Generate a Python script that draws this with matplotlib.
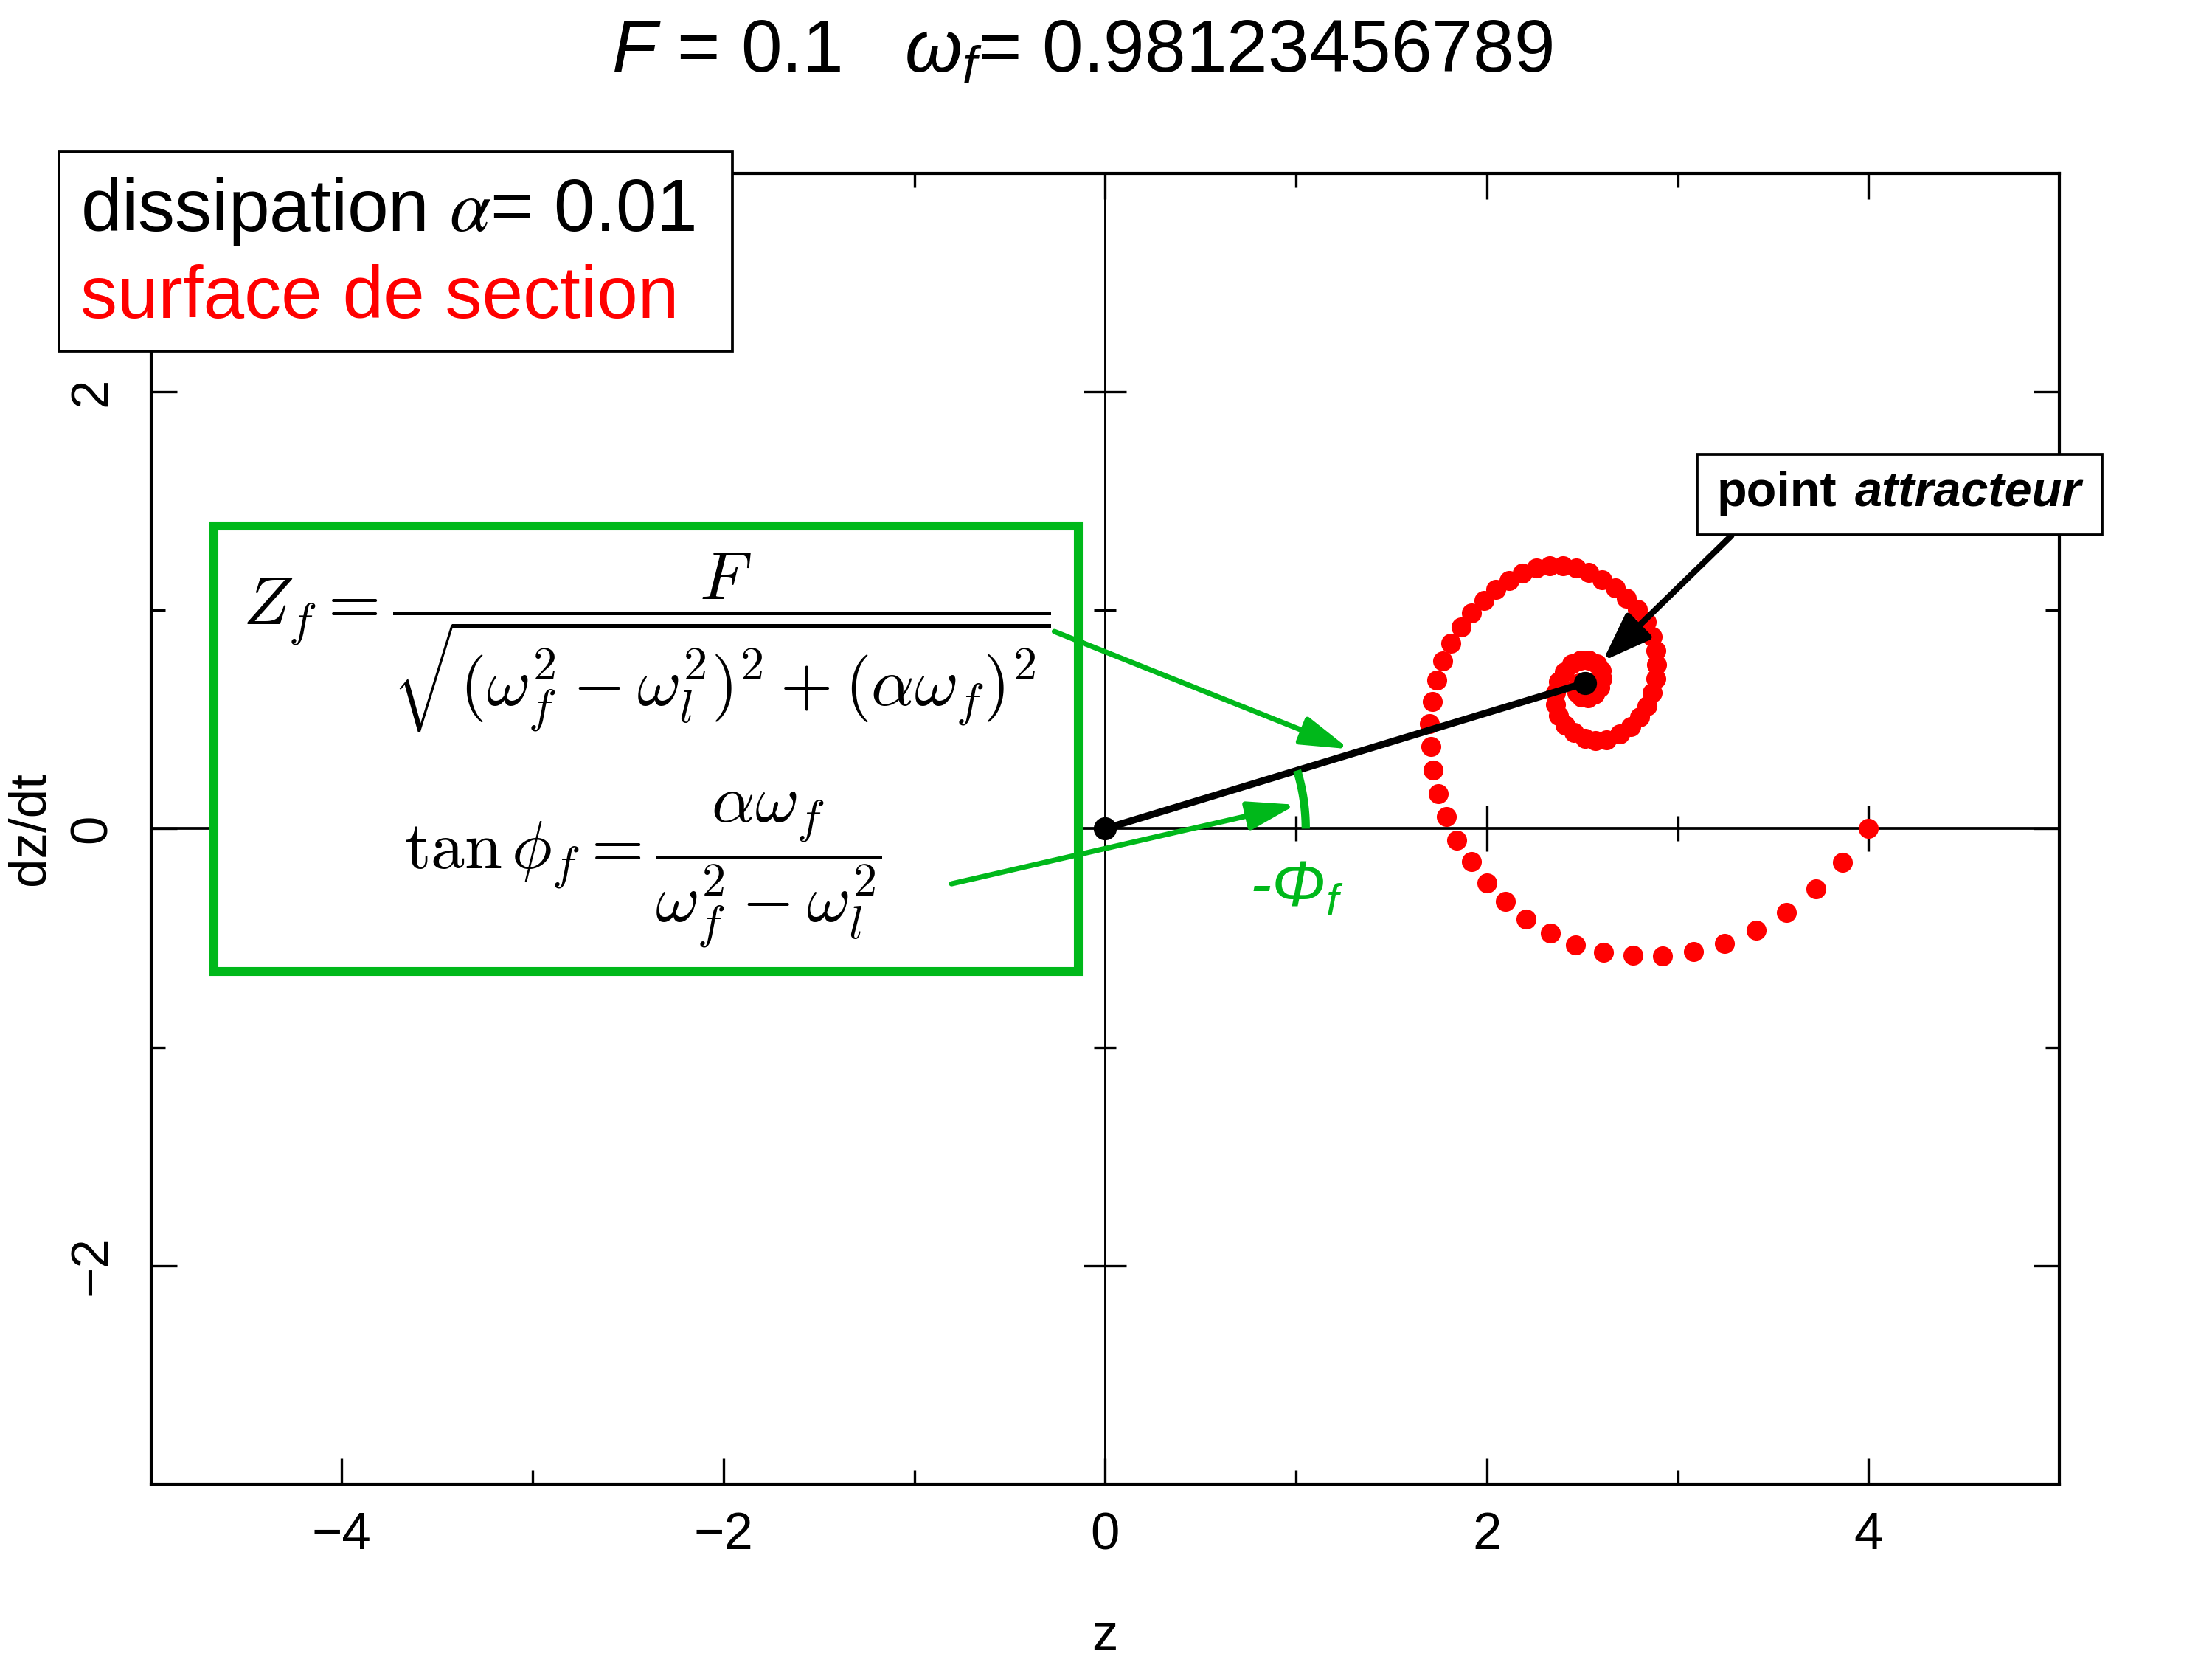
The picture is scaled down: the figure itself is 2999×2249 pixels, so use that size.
import numpy as np
import matplotlib
matplotlib.use("Agg")
import matplotlib.pyplot as plt
import matplotlib.patches as mpatches

plt.rcParams['font.family'] = ['Liberation Sans', 'DejaVu Sans']
plt.rcParams['mathtext.fontset'] = 'custom'
plt.rcParams['mathtext.rm'] = 'Liberation Sans'
plt.rcParams['mathtext.it'] = 'Liberation Sans:italic'
plt.rcParams['mathtext.bf'] = 'Liberation Sans:bold'
plt.rcParams['axes.unicode_minus'] = True

# ---------------- data ----------------
spiral_z = [4.000, 3.865, 3.723, 3.569, 3.413, 3.246, 3.084, 2.919, 2.765, 2.612,
            2.463, 2.332, 2.206, 2.096, 2.000, 1.918, 1.844, 1.789, 1.746, 1.718,
            1.707, 1.700, 1.716, 1.739, 1.769, 1.812, 1.865, 1.920, 1.984, 2.048,
            2.117, 2.188, 2.261, 2.330, 2.399, 2.467, 2.536, 2.605, 2.674, 2.731,
            2.788, 2.834, 2.868, 2.887, 2.891, 2.884, 2.868, 2.841, 2.800, 2.754,
            2.696, 2.628, 2.570, 2.513, 2.456, 2.410, 2.376, 2.360, 2.360, 2.376,
            2.405, 2.444, 2.490, 2.536, 2.575, 2.598, 2.605, 2.593, 2.566, 2.529,
            2.497, 2.474, 2.467, 2.483, 2.513]
spiral_dz = [0.000, -0.153, -0.276, -0.383, -0.466, -0.525, -0.563, -0.583, -0.579, -0.566,
             -0.531, -0.479, -0.412, -0.332, -0.249, -0.150, -0.052, 0.054, 0.161, 0.268,
             0.378, 0.482, 0.583, 0.680, 0.767, 0.848, 0.922, 0.987, 1.045, 1.095,
             1.137, 1.170, 1.192, 1.205, 1.205, 1.192, 1.172, 1.140, 1.101, 1.056,
             1.004, 0.946, 0.881, 0.816, 0.751, 0.687, 0.622, 0.563, 0.512, 0.466,
             0.434, 0.408, 0.402, 0.415, 0.440, 0.473, 0.518, 0.570, 0.622, 0.674,
             0.719, 0.754, 0.771, 0.771, 0.754, 0.725, 0.687, 0.648, 0.615, 0.598,
             0.602, 0.622, 0.648, 0.668, 0.674]

attractor = (2.513, 0.667)
origin = (0.0, 0.0)

x_major = [-4, -2, 0, 2, 4]
x_minor = [-3, -1, 1, 3]
y_major = [-2, 0, 2]
y_minor = [-1, 1]
xlim = (-5, 5)
ylim = (-3, 3)

title_text = r"$F$ = 0.1   $\omega_f$= 0.98123456789"
legend_line1 = r"dissipation $\alpha$= 0.01"
legend_line2 = "surface de section"
formula_z = r"$Z_f = \dfrac{F}{\sqrt{(\omega_f^2-\omega_l^2)^2+(\alpha\omega_f)^2}}$"
formula_phi = r"$\tan\phi_f = \dfrac{\alpha\omega_f}{\omega_f^2-\omega_l^2}$"

GREEN = '#00b81a'
RED = '#ff0000'

# ---------------- figure ----------------
W, H = 2999, 2249
fig = plt.figure(figsize=(W / 300, H / 300), dpi=300)
ax = fig.add_axes([0.0682, 0.1054, 0.8628, 0.7901])
ax.set_xlim(*xlim)
ax.set_ylim(*ylim)

for s in ax.spines.values():
    s.set_linewidth(1.0)

ax.set_xticks(x_major)
ax.set_xticks(x_minor, minor=True)
ax.set_yticks(y_major)
ax.set_yticks(y_minor, minor=True)
ax.tick_params(which='both', direction='in', top=True, right=True, width=0.8)
ax.tick_params(which='major', length=8.4, labelsize=17)
ax.tick_params(which='minor', length=4.5)
ax.tick_params(axis='x', pad=9)
ax.tick_params(axis='y', pad=11)
for lab in ax.get_yticklabels():
    lab.set_rotation(90)
    lab.set_va('center')

ax.set_xlabel('z', fontsize=17, va='center')
ax.xaxis.set_label_coords(0.5, -0.1165)
ax.set_ylabel('dz/dt', fontsize=17, va='center', ha='center')
ax.yaxis.set_label_coords(-0.0628, 0.5)

# axes through the origin with crossing ticks
ax.axhline(0, color='black', lw=0.9, zorder=1)
ax.axvline(0, color='black', lw=0.7, zorder=1)
xt_maj = [v for v in x_major if v != 0]
ax.plot(xt_maj, [0] * len(xt_maj), ls='none', marker='|', ms=15, mew=0.8, color='black', zorder=1)
ax.plot(x_minor, [0] * len(x_minor), ls='none', marker='|', ms=8, mew=0.8, color='black', zorder=1)
yt_maj = [v for v in y_major if v != 0]
ax.plot([0] * len(yt_maj), yt_maj, ls='none', marker='_', ms=14, mew=0.8, color='black', zorder=1)
ax.plot([0] * len(y_minor), y_minor, ls='none', marker='_', ms=7.4, mew=0.8, color='black', zorder=1)

# spiral of the surface of section
ax.plot(spiral_z, spiral_dz, ls='none', marker='o', ms=6.5, mew=0, color=RED, zorder=4)

# black segment origin -> attractor
ax.plot([origin[0], attractor[0]], [origin[1], attractor[1]], color='black', lw=2.3,
        solid_capstyle='round', zorder=6)
ax.plot([origin[0], attractor[0]], [origin[1], attractor[1]], ls='none', marker='o',
        ms=6.5, color='black', zorder=7)

# green formula box
box = mpatches.Rectangle((-4.668, -0.652), 4.528, 2.039, facecolor='white',
                         edgecolor=GREEN, lw=2.9, zorder=3)
ax.add_patch(box)
ax.text(-2.40, 0.85, formula_z, fontsize=22, ha='center', va='center',
        math_fontfamily='cm', zorder=4)
ax.text(-2.42, -0.19, formula_phi, fontsize=22, ha='center', va='center',
        math_fontfamily='cm', zorder=4)

# green arrows
ax.annotate('', xy=(1.278, 0.365), xytext=(-0.266, 0.903),
            arrowprops=dict(arrowstyle='-|>,head_length=0.6,head_width=0.18',
                            color=GREEN, lw=1.7, mutation_scale=22, shrinkA=0, shrinkB=0),
            zorder=8)
ax.annotate('', xy=(1.0, 0.110), xytext=(-0.805, -0.252),
            arrowprops=dict(arrowstyle='-|>,head_length=0.6,head_width=0.18',
                            color=GREEN, lw=1.7, mutation_scale=22, shrinkA=0, shrinkB=0),
            zorder=8)

# green angle arc (circular in pixel space)
sx = 0.8628 * W / (xlim[1] - xlim[0])
sy = 0.7901 * H / (ylim[1] - ylim[0])
r_px = 272
ang = np.arctan2(attractor[1] * sy, attractor[0] * sx)
t = np.linspace(0, ang, 40)
ax.plot(r_px * np.cos(t) / sx, r_px * np.sin(t) / sy, color=GREEN, lw=2.7,
        solid_capstyle='butt', zorder=6)
ax.text(1.004, -0.277, r"-Φ${}_f$", color=GREEN, fontsize=21, style='italic',
        ha='center', va='center', zorder=8)

# black arrow to the attractor
ax.annotate('', xy=(2.608, 0.768), xytext=(3.281, 1.341),
            arrowprops=dict(arrowstyle='-|>,head_length=0.6,head_width=0.22',
                            color='black', lw=2.0, mutation_scale=22, shrinkA=0, shrinkB=0),
            zorder=9, annotation_clip=False)

# "point attracteur" box (figure coords)
pa = mpatches.Rectangle((0.7673, 0.6776), 0.1831, 0.0485, transform=fig.transFigure,
                        facecolor='white', edgecolor='black', lw=0.9, zorder=10)
fig.add_artist(pa)
fig.text(0.8303, 0.7025, 'point', fontsize=16, fontweight='bold', ha='right', va='center', zorder=11)
fig.text(0.8386, 0.7025, 'attracteur', fontsize=16, fontweight='bold', style='italic',
         ha='left', va='center', zorder=11)

# legend box top-left
lg = mpatches.Rectangle((0.0267, 0.7884), 0.3044, 0.1200, transform=fig.transFigure,
                        facecolor='white', edgecolor='black', lw=0.9, zorder=10)
fig.add_artist(lg)
fig.text(0.0363, 0.8724, legend_line1, fontsize=24, ha='left', va='center',
         math_fontfamily='stix', zorder=11)
fig.text(0.0363, 0.8197, legend_line2, fontsize=24, color=RED, ha='left', va='center', zorder=11)

# title
fig.text(0.489, 0.9685, title_text, fontsize=24, ha='center', va='center')

fig.savefig('out.png', dpi=300)
